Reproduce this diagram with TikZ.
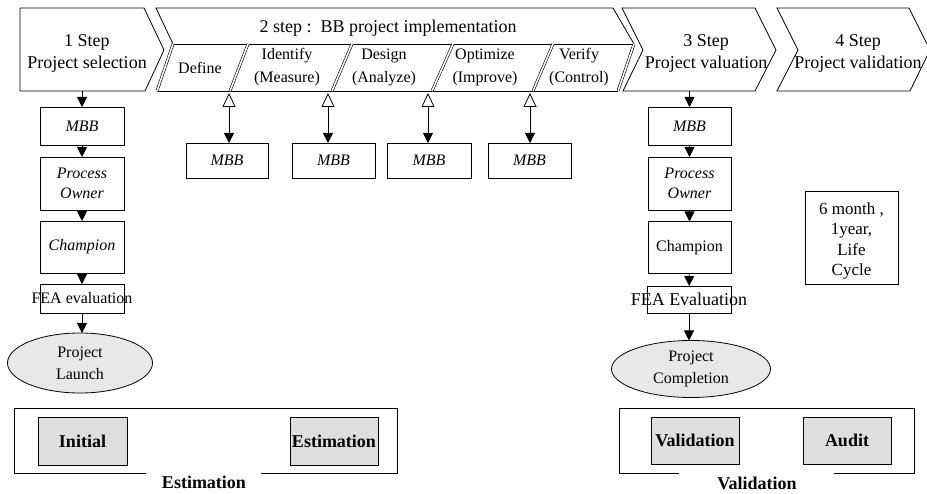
\documentclass[tikz,border=0pt]{standalone}
\usepackage{fontspec}
\setmainfont{Liberation Serif}
\usetikzlibrary{arrows.meta,shapes.geometric}
\begin{document}
\begin{tikzpicture}[x=1pt,y=-1pt,line width=0.8pt,line join=miter,
  every node/.style={inner sep=0pt, outer sep=0pt},
  dbl/.style={double, double distance=1.6pt, line width=0.6pt},
  head/.style={font=\fontsize{18}{22}\selectfont, align=center},
  phase/.style={font=\fontsize{16}{23}\selectfont, align=center},
  rolebox/.style={draw, minimum width=84pt, font=\fontsize{16}{20}\selectfont\itshape, align=center},
  plainbox/.style={draw, minimum width=84pt, font=\fontsize{16}{20}\selectfont, align=center},
  milestone/.style={draw, ellipse, fill=gray!18, font=\fontsize{16}{22}\selectfont, align=center},
  gatebox/.style={draw, fill=gray!26, minimum width=88pt, minimum height=48pt, font=\fontsize{18}{22}\selectfont\bfseries},
  grouplabel/.style={font=\fontsize{18}{22}\selectfont\bfseries},
  flow/.style={-{Triangle[length=10pt,width=10pt]}},
  review/.style={{Triangle[open,length=14pt,width=13pt]}-{Triangle[length=10pt,width=10pt]}},
]
\useasboundingbox (0,0) rectangle (927,494);

% ---- step chevrons ----
\draw (20,8) -- (144,8) -- (164,50) -- (145,91) -- (20,91) -- cycle;
\node[head] (s1) at (87,53) {1 Step\\Project selection};

% step 2 with its DMAIC sub-bar
\draw (173,44) -- (156,8) -- (613,8) -- (634,44);
\draw (157,91) -- (618,91);
\draw (173,44) -- (634,44);
\draw[dbl] (173,44) -- (157,91);
\draw[dbl] (248,44) -- (230,91);
\draw[dbl] (352,44) -- (332,91);
\draw[dbl] (453,44) -- (432,91);
\draw[dbl] (553,44) -- (533,91);
\draw[dbl] (634,44) -- (618,91);
\node[head] (s2) at (388,28) {2 step :\ \ BB project implementation};
\node[phase] (pD) at (200,68) {Define};
\node[phase] (pM) at (287,67) {Identify\\(Measure)};
\node[phase] (pA) at (384,67) {Design\\(Analyze)};
\node[phase] (pI) at (485,67) {Optimize\\(Improve)};
\node[phase] (pC) at (579,67) {Verify\\(Control)};

\draw (622,8) -- (755,8) -- (776,50) -- (755,91) -- (623,91) -- (643,50) -- cycle;
\node[head] (s3) at (706,53) {3 Step\\Project valuation};

\draw (777,8) -- (909,8) -- (930,50) -- (910,91) -- (777,91) -- (798,50) -- cycle;
\node[head] (s4) at (858,53) {4 Step\\Project validation};

% ---- MBB reviews under each phase boundary ----
\coordinate (d1) at (229,93);
\coordinate (d2) at (328,93);
\coordinate (d3) at (428,93);
\coordinate (d4) at (530,93);
\node[rolebox, minimum width=82pt, minimum height=35pt] (m1) at (227,160.5) {MBB};
\node[rolebox, minimum width=83pt, minimum height=35pt] (m2) at (333.5,160.5) {MBB};
\node[rolebox, minimum width=84pt, minimum height=35pt] (m3) at (429,160.5) {MBB};
\node[rolebox, minimum width=83pt, minimum height=35pt] (m4) at (529.5,160.5) {MBB};
\draw[review] (d1) -- (d1 |- m1.north);
\draw[review] (d2) -- (d2 |- m2.north);
\draw[review] (d3) -- (d3 |- m3.north);
\draw[review] (d4) -- (d4 |- m4.north);

% ---- selection column ----
\coordinate (c1) at (82,91);
\node[rolebox, minimum height=38pt] (mbbL) at (82,126) {MBB};
\node[rolebox, minimum height=53pt] (poL) at (82,183.5) {Process\\Owner};
\node[rolebox, minimum height=52pt] (chL) at (82,247) {Champion};
\node[plainbox, minimum height=29pt] (feaL) at (82,298.5) {\makebox[0pt]{FEA evaluation}};
\node[milestone, minimum width=145pt, minimum height=60pt] (launch) at (80,363) {Project\\Launch};
\draw[flow] (c1) -- (c1 |- mbbL.north);
\draw[flow] (mbbL) -- (poL);
\draw[flow] (poL) -- (chL);
\draw[flow] (chL) -- (feaL);
\draw[flow] (feaL.south) -- (feaL.south |- launch.north);

% ---- valuation column ----
\coordinate (c3) at (689.5,91);
\node[rolebox, minimum width=83pt, minimum height=38pt] (mbbR) at (689.5,126) {MBB};
\node[rolebox, minimum width=83pt, minimum height=53pt] (poR) at (689.5,183.5) {Process\\Owner};
\node[plainbox, minimum width=83pt, minimum height=52pt] (chR) at (689.5,247.5) {Champion};
\node[plainbox, minimum width=84pt, minimum height=27pt, font=\fontsize{18}{22}\selectfont] (feaR) at (689,299.5) {\makebox[0pt]{FEA Evaluation}};
\node[milestone, minimum width=159pt, minimum height=57pt] (done) at (691,369) {Project\\Completion};
\draw[flow] (c3) -- (c3 |- mbbR.north);
\draw[flow] (mbbR) -- (poR);
\draw[flow] (poR) -- (chR);
\draw[flow] (chR) -- (feaR);
\draw[flow] (feaR.south) -- (feaR.south |- done.north);

% review horizon box
\node[draw, minimum width=93pt, minimum height=93pt] (life) at (851.5,237.5) {};
\node[font=\fontsize{17}{20.5}\selectfont, align=center] (lifetxt) at (851.5,241) {6 month ,\\1year,\\Life\\Cycle};

% ---- gate groups ----
\node[gatebox, minimum width=89pt] (gInit) at (82.5,441) {Initial};
\node[gatebox] (gEst) at (334,441) {Estimation};
\node[grouplabel] (lEst) at (204,482) {Estimation};
\draw (146,473) -| (14,408) -| (397,473) -- (261,473);

\node[gatebox, minimum height=47pt] (gVal) at (695,440.5) {Validation};
\node[gatebox, minimum height=47pt] (gAud) at (847,440.5) {Audit};
\node[grouplabel] (lVal) at (757,483) {Validation};
\draw (679,473) -| (619,408) -| (914,473) -- (834,473);
\end{tikzpicture}
\end{document}
